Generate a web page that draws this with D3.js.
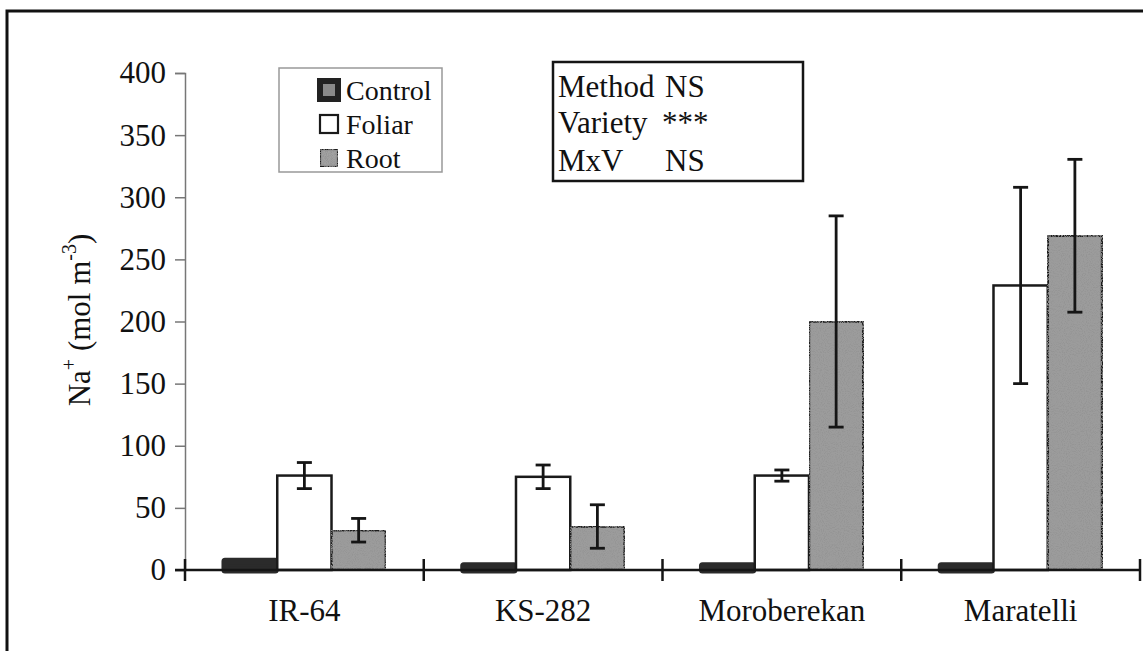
<!DOCTYPE html>
<html>
<head>
<meta charset="utf-8">
<script src="https://cdn.jsdelivr.net/npm/d3@7"></script>
<style>
  html, body { margin: 0; padding: 0; background: #fff; }
  svg { display: block; }
  text { font-family: "Liberation Serif", "Times New Roman", serif; fill: #111; }
</style>
</head>
<body>
<script>
// Leaf Na+ concentration by rice variety and salt application method
const categories = ["IR-64", "KS-282", "Moroberekan", "Maratelli"];
const series = ["Control", "Foliar", "Root"];
const controlValues = [7, 3.5, 3.5, 3.5];
const foliarValues = [76, 75, 76, 229];
const rootValues = [32, 35, 200, 269];
const controlErrors = [0, 0, 0, 0];
const foliarErrors = [10.5, 9.5, 4.5, 79];
const rootErrors = [9.5, 17.5, 85, 61.5];
const yTicks = [0, 50, 100, 150, 200, 250, 300, 350, 400];
const statLines = [["Method", "NS"], ["Variety", "***"], ["MxV", "NS"]];

const W = 1143, H = 651;
const FONT = "31px";
const svg = d3.select("body").append("svg").attr("width", W).attr("height", H);

// speckled texture used on the grey "Root" fill
const defs = svg.append("defs");
const grain = defs.append("filter").attr("id", "grain")
  .attr("x", 0).attr("y", 0).attr("width", 1).attr("height", 1);
grain.append("feTurbulence").attr("type", "fractalNoise")
  .attr("baseFrequency", 0.95).attr("numOctaves", 2).attr("seed", 3).attr("result", "noise");
grain.append("feColorMatrix").attr("in", "noise").attr("type", "matrix")
  .attr("values", "0 0 0 0 0.3  0 0 0 0 0.3  0 0 0 0 0.3  0 0 0 3 -1.2")
  .attr("result", "dots");
grain.append("feComposite").attr("in", "dots").attr("in2", "SourceGraphic")
  .attr("operator", "in").attr("result", "clipped");
const gm = grain.append("feMerge");
gm.append("feMergeNode").attr("in", "SourceGraphic");
gm.append("feMergeNode").attr("in", "clipped");

// outer frame (open on right and bottom)
svg.append("path")
  .attr("d", `M7,${H} L7,11 L${W},11`)
  .attr("fill", "none").attr("stroke", "#111").attr("stroke-width", 3);

const plot = { left: 185, right: 1140, top: 73, bottom: 570 };

const y = d3.scaleLinear().domain([0, 400]).range([plot.bottom, plot.top]);
const x0 = d3.scaleBand().domain(categories).range([plot.left, plot.right]).padding(0);
const x1 = d3.scaleBand().domain(series).range([0, x0.bandwidth()])
  .paddingInner(0).paddingOuter(0.7);

const rows = categories.map((c, i) => ({
  cat: c,
  bars: [
    { s: "Control", v: controlValues[i], e: controlErrors[i] },
    { s: "Foliar", v: foliarValues[i], e: foliarErrors[i] },
    { s: "Root", v: rootValues[i], e: rootErrors[i] }
  ]
}));

// y axis
const yAxis = svg.append("g").attr("transform", `translate(${plot.left},0)`)
  .call(d3.axisLeft(y).tickValues(yTicks).tickSize(10).tickPadding(9));
yAxis.select(".domain").attr("stroke", "#777").attr("stroke-width", 1.5);
yAxis.selectAll(".tick line").attr("stroke", "#777").attr("stroke-width", 1.5);
yAxis.selectAll(".tick text")
  .style("font-family", "'Liberation Serif', serif").style("font-size", FONT).attr("fill", "#111");

// y axis title
const yt = svg.append("text")
  .attr("transform", `translate(90,320) rotate(-90)`)
  .attr("text-anchor", "middle")
  .style("font-size", FONT);
yt.append("tspan").text("Na");
yt.append("tspan").attr("dy", -14).style("font-size", "20px").text("+");
yt.append("tspan").attr("dy", 14).text(" (mol m");
yt.append("tspan").attr("dy", -14).style("font-size", "20px").text("-3");
yt.append("tspan").attr("dy", 14).text(")");

// bars
const groups = svg.append("g").selectAll("g").data(rows).join("g")
  .attr("transform", d => `translate(${x0(d.cat)},0)`);

groups.selectAll("rect.bar").data(d => d.bars).join("rect")
  .attr("class", "bar")
  .attr("x", d => x1(d.s) + (d.s === "Control" ? 2 : 0))
  .attr("width", d => x1.bandwidth() - (d.s === "Control" ? 4 : 0))
  .attr("y", d => y(d.v))
  .attr("height", d => y(0) - y(d.v))
  .attr("fill", d => d.s === "Control" ? "#2b2b2b" : d.s === "Foliar" ? "#ffffff" : "#9c9c9c")
  .attr("stroke", d => d.s === "Control" ? "#2b2b2b" : "#1a1a1a")
  .attr("stroke-width", d => d.s === "Control" ? 7 : 2.5)
  .attr("stroke-linejoin", d => d.s === "Control" ? "round" : "miter")
  .attr("filter", d => d.s === "Root" ? "url(#grain)" : null);

// error bars
const errs = groups.selectAll("g.err").data(d => d.bars.filter(b => b.e > 0)).join("g")
  .attr("class", "err")
  .attr("stroke", "#151515").attr("stroke-width", 2.8);
const cap = 7.5;
errs.append("line")
  .attr("x1", d => x1(d.s) + x1.bandwidth() / 2).attr("x2", d => x1(d.s) + x1.bandwidth() / 2)
  .attr("y1", d => y(d.v + d.e)).attr("y2", d => y(d.v - d.e));
errs.append("line")
  .attr("x1", d => x1(d.s) + x1.bandwidth() / 2 - cap).attr("x2", d => x1(d.s) + x1.bandwidth() / 2 + cap)
  .attr("y1", d => y(d.v + d.e)).attr("y2", d => y(d.v + d.e));
errs.append("line")
  .attr("x1", d => x1(d.s) + x1.bandwidth() / 2 - cap).attr("x2", d => x1(d.s) + x1.bandwidth() / 2 + cap)
  .attr("y1", d => y(d.v - d.e)).attr("y2", d => y(d.v - d.e));

// x axis: baseline with crossing ticks at category boundaries
const xg = svg.append("g");
xg.append("line")
  .attr("x1", plot.left - 10).attr("x2", plot.right)
  .attr("y1", y(0)).attr("y2", y(0))
  .attr("stroke", "#151515").attr("stroke-width", 2.5);
const bounds = categories.map(c => x0(c)).concat([x0(categories[categories.length - 1]) + x0.bandwidth()]);
xg.selectAll("line.b").data(bounds).join("line")
  .attr("class", "b")
  .attr("x1", d => d).attr("x2", d => d)
  .attr("y1", y(0) - 11).attr("y2", y(0) + 11)
  .attr("stroke", "#151515").attr("stroke-width", 2.5);
xg.selectAll("text").data(categories).join("text")
  .attr("x", d => x0(d) + x0.bandwidth() / 2)
  .attr("y", 621)
  .attr("text-anchor", "middle")
  .style("font-size", FONT)
  .text(d => d);

// legend
const leg = svg.append("g");
leg.append("rect").attr("x", 279).attr("y", 68).attr("width", 163).attr("height", 104)
  .attr("fill", "#fff").attr("stroke", "#999").attr("stroke-width", 1.5);
const legBase = [100, 134, 168];
const legItems = leg.selectAll("g").data(series).join("g");
legItems.append("rect")
  .attr("x", 320).attr("width", 18)
  .attr("y", (d, i) => legBase[i] - 19).attr("height", 18)
  .attr("fill", d => d === "Control" ? "#8a8a8a" : d === "Foliar" ? "#fff" : "#a2a2a2")
  .attr("stroke", d => d === "Control" ? "#222" : "#1a1a1a")
  .attr("stroke-width", d => d === "Control" ? 6 : 2.2)
  .attr("filter", d => d === "Root" ? "url(#grain)" : null);
legItems.append("text")
  .attr("x", 346).attr("y", (d, i) => legBase[i])
  .style("font-size", "28px")
  .text(d => d);

// statistics box
const st = svg.append("g");
st.append("rect").attr("x", 553).attr("y", 62).attr("width", 250).attr("height", 119)
  .attr("fill", "#fff").attr("stroke", "#151515").attr("stroke-width", 2.5);
const stBase = [97, 133, 171];
const stRows = st.selectAll("g").data(statLines).join("g");
stRows.append("text").attr("x", 558).attr("y", (d, i) => stBase[i])
  .style("font-size", FONT).text(d => d[0]);
stRows.append("text").attr("x", (d, i) => i === 1 ? 662 : 665).attr("y", (d, i) => stBase[i])
  .style("font-size", FONT).text(d => d[1]);
</script>
</body>
</html>
